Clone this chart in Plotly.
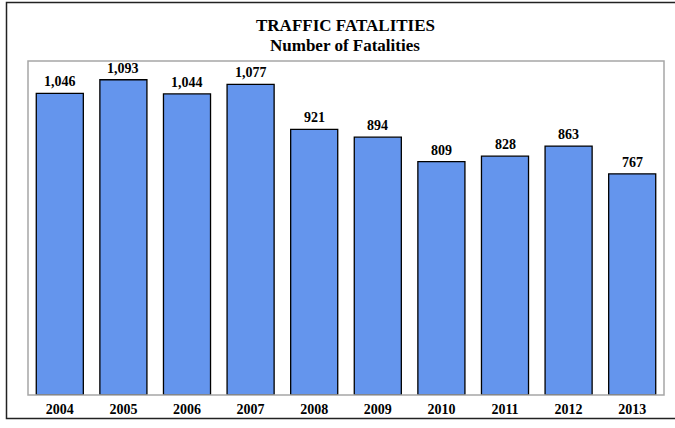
import plotly.graph_objects as go

years = ["2004", "2005", "2006", "2007", "2008", "2009", "2010", "2011", "2012", "2013"]
fatalities = [1046, 1093, 1044, 1077, 921, 894, 809, 828, 863, 767]
labels = [f"{v:,}" for v in fatalities]

W, H = 675, 428
L, R, T, B = 28, 664, 61, 401
pw, ph = R - L, B - T

def px(x):
    return (x - L) / pw

def py(y):
    return (B - y) / ph

FONT = "Liberation Serif"

fig = go.Figure(go.Bar(
    x=years, y=fatalities,
    marker=dict(color="#6495ED", line=dict(color="black", width=1.3)),
    cliponaxis=False, hoverinfo="skip",
))

annotations = [
    dict(text="<b>TRAFFIC FATALITIES</b>", x=px(345), y=py(25), xref="paper", yref="paper",
         xanchor="center", yanchor="middle", borderpad=0,
         showarrow=False, font=dict(family=FONT, size=17, color="black")),
    dict(text="<b>Number of Fatalities</b>", x=px(345), y=py(45), xref="paper", yref="paper",
         xanchor="center", yanchor="middle", borderpad=0,
         showarrow=False, font=dict(family=FONT, size=17, color="black")),
]
for i, (v, lab) in enumerate(zip(fatalities, labels)):
    annotations.append(dict(text=f"<b>{lab}</b>", x=i, y=v, xref="x", yref="y",
                            xanchor="center", yanchor="bottom", yshift=2, showarrow=False,
                            font=dict(family=FONT, size=14, color="black")))

fig.update_layout(
    width=W, height=H,
    margin=dict(l=L, r=W - R, t=T, b=H - B),
    paper_bgcolor="white", plot_bgcolor="white",
    bargap=0.26,
    showlegend=False,
    font=dict(family=FONT, color="black"),
    xaxis=dict(type="category", range=[-0.5, len(years) - 0.5], showgrid=False, ticks="",
               ticklabelstandoff=4,
               tickfont=dict(family=FONT, size=14, color="black", weight="bold")),
    yaxis=dict(range=[0, 1158], showgrid=False, showticklabels=False, zeroline=False),
    annotations=annotations,
    shapes=[
        dict(type="rect", xref="paper", yref="paper", x0=0, x1=1, y0=0, y1=1,
             line=dict(color="#A6A6A6", width=1.5)),
        dict(type="rect", xref="paper", yref="paper", x0=px(6.5), x1=px(690), y0=py(425), y1=py(1.5),
             line=dict(color="#222222", width=1.5)),
    ],
)

fig.write_html("out.html", config={"displayModeBar": False},
               post_script="document.body.style.margin='0';document.body.style.overflow='hidden';")
